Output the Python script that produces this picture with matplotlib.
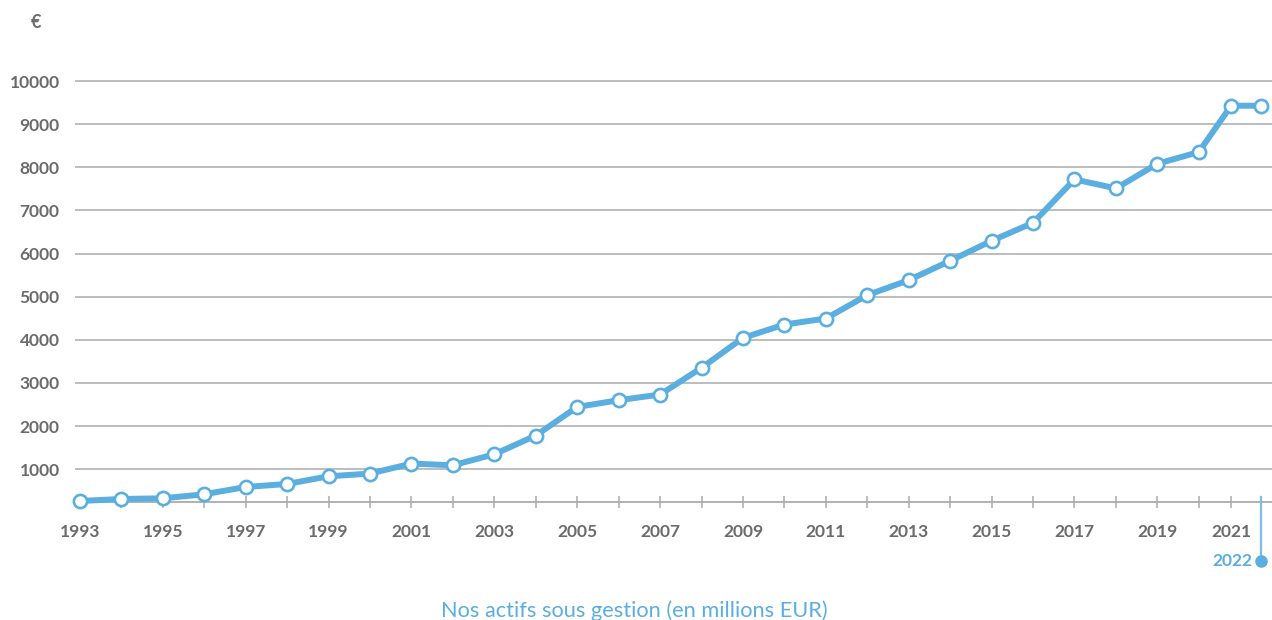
import matplotlib
matplotlib.use("Agg")
import matplotlib.pyplot as plt
import numpy as np

years = list(range(1993, 2023))
values = [262, 309, 325, 418, 587, 657, 835, 898, 1130, 1090,
          1346, 1780, 2443, 2599, 2731, 3350, 4044, 4354, 4493, 5035,
          5383, 5831, 6295, 6713, 7719, 7510, 8081, 8353, 9427, 9427]
y_ticks = [1000, 2000, 3000, 4000, 5000, 6000, 7000, 8000, 9000, 10000]
x_label_years = list(range(1993, 2022, 2))
minor_years = list(range(1994, 2021, 2))
highlight_year = 2022
title = "Nos actifs sous gestion (en millions EUR)"
unit = "€"

BLUE = "#5aaee0"
GRAY = "#6b6b6b"
GRID = "#ababab"
FONT = ["Lato", "DejaVu Sans"]

plt.rcParams['font.family'] = FONT

# the last two years are drawn a bit narrower, as in the original layout
def fwd(x):
    x = np.asarray(x, dtype=float)
    return np.where(x <= 2020, x,
                    np.where(x <= 2021, 2020 + 0.78 * (x - 2020),
                             2020.78 + 0.72 * (x - 2021)))

def inv(t):
    t = np.asarray(t, dtype=float)
    return np.where(t <= 2020, t,
                    np.where(t <= 2020.78, 2020 + (t - 2020) / 0.78,
                             2021 + (t - 2020.78) / 0.72))

fig = plt.figure(figsize=(12.72, 6.2), dpi=100)
ax = fig.add_axes([75/1272, 118/620, 1 - 75/1272, (502-60)/620])
ax.set_xscale("function", functions=(fwd, inv))

ymin, ymax = 239, 10487
ax.set_xlim(1992.88, 2022.37)
ax.set_ylim(ymin, ymax)

for s in ["top", "right", "left"]:
    ax.spines[s].set_visible(False)
ax.spines["bottom"].set_color(GRID)
ax.spines["bottom"].set_linewidth(1.3)

ax.set_yticks(y_ticks)
ax.set_yticklabels([str(v) for v in y_ticks])
ax.yaxis.grid(True, color=GRID, linewidth=1.1)
ax.set_axisbelow(True)
ax.tick_params(axis="y", length=0, pad=11, labelsize=12.5, labelcolor=GRAY)
for lbl in ax.get_yticklabels():
    lbl.set_fontweight("bold")

ax.set_xticks(x_label_years)
ax.set_xticklabels([str(y) for y in x_label_years])
ax.set_xticks(minor_years, minor=True)
ax.tick_params(axis="x", which="both", direction="inout", length=9, width=1.1,
               color=GRID, pad=11, labelsize=12.5, labelcolor=GRAY)
for lbl in ax.get_xticklabels():
    lbl.set_fontweight("bold")

ax.plot(years, values, color=BLUE, linewidth=4.3, marker="o", markersize=9.5,
        markerfacecolor="white", markeredgecolor=BLUE, markeredgewidth=1.9,
        clip_on=False, zorder=3)

# highlight of the last year under the axis
drop = 1370
ax.plot([highlight_year, highlight_year], [ymin + 110, ymin - drop],
        color="#7fbde6", linewidth=1.6, clip_on=False, zorder=2)
ax.plot([highlight_year], [ymin - drop], marker="o", markersize=8,
        color=BLUE, clip_on=False, zorder=3)
ax.text(highlight_year - 0.3, ymin - drop, str(highlight_year), color=BLUE,
        fontsize=12.5, fontweight="bold", ha="right", va="center")

fig.text(36/1272, 1 - 23/620, unit, color=GRAY, fontsize=13,
         fontweight="bold", ha="center", va="center")
fig.text(634/1272, 1 - 611/620, title, color=BLUE, fontsize=15.7,
         ha="center", va="center")

fig.savefig("out.png", dpi=100)
